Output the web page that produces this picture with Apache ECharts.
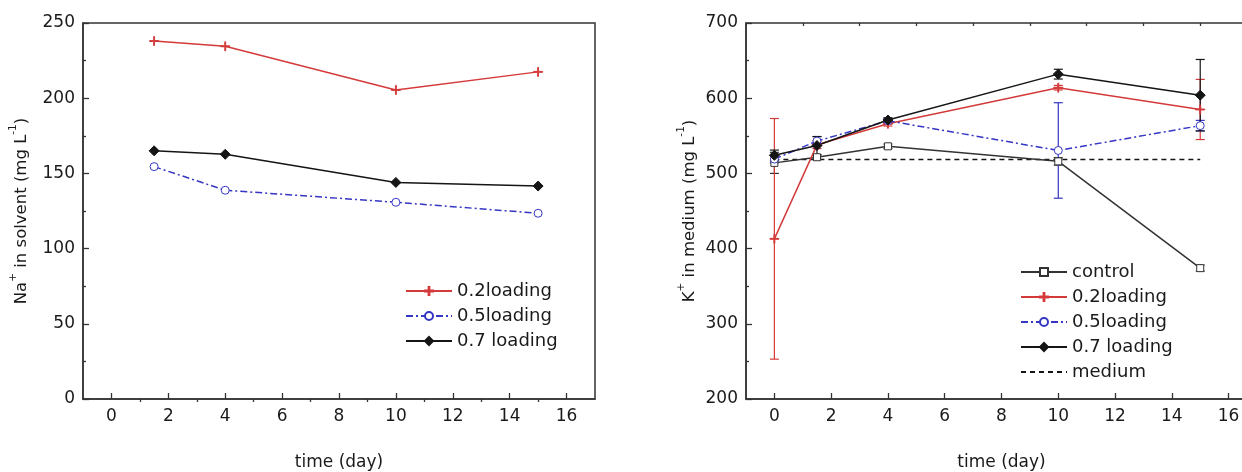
<!DOCTYPE html>
<html>
<head>
<meta charset="utf-8">
<script src="https://cdn.jsdelivr.net/npm/echarts@6/dist/echarts.min.js"></script>
<style>
  html, body { margin: 0; padding: 0; background: #fff; }
  #chart { width: 1242px; height: 472px; }
</style>
</head>
<body>
<div id="chart"></div>
<script>
// Sampling days
const naDays = [1.5, 4, 10, 15];
const kDays = [0, 1.5, 4, 10, 15];

// Na+ in solvent (mg/L)
const na02 = [238, 234.5, 205.5, 217.5];
const na05 = [154.5, 138.8, 130.8, 123.5];
const na07 = [165, 162.7, 144, 141.6];

// K+ in medium (mg/L) with error half-widths
const kControl = [514, 521.5, 536, 516, 374];
const kControlErr = [14, 3, 3, 5, 4];
const k02 = [413, 538, 566, 614, 585];
const k02Err = [160, 5, 3, 3, 40];
const k05 = [519, 543, 570, 530.5, 563.5];
const k05Err = [5, 6, 3, 63.5, 7];
const k07 = [524, 537, 571, 632, 604];
const k07Err = [7, 12, 3, 6.5, 47.5];
const kMedium = 518.5;
const mediumSpan = [0, 15];

// Axis ticks
const xMajor = [0, 2, 4, 6, 8, 10, 12, 14, 16];
const xMinor = [1, 3, 5, 7, 9, 11, 13, 15];

const RED = '#d43a3a';
const BLUE = '#3636c4';
const BLACK = '#151515';
const GREY = '#333333';
const FONT = 'DejaVu Sans, Liberation Sans, sans-serif';
const TEXT = '#1a1a1a';

// small "+" marker
const plusPath = 'path://M4.5,0h1v4.5h4.5v1h-4.5v4.5h-1v-4.5h-4.5v-1h4.5z';

function pairs(xs, ys) { return xs.map((x, i) => [x, ys[i]]); }

function xAxisPair(gridIndex) {
  const base = {
    type: 'value', gridIndex, min: -1, max: 17,
    axisLine: { show: true, onZero: false, lineStyle: { color: GREY, width: 1.5 } },
    splitLine: { show: false }
  };
  return [
    Object.assign({}, base, {
      name: 'time (day)', nameLocation: 'middle', nameGap: 55,
      nameTextStyle: { fontFamily: FONT, fontSize: 17, color: TEXT },
      axisTick: { show: true, inside: true, length: 6, customValues: xMajor, lineStyle: { color: GREY, width: 1.3 } },
      axisLabel: { show: true, customValues: xMajor, margin: 9, fontFamily: FONT, fontSize: 17, color: TEXT }
    }),
    Object.assign({}, base, {
      axisLine: { show: false },
      axisTick: { show: true, inside: true, length: 3, customValues: xMinor, lineStyle: { color: GREY, width: 1.3 } },
      axisLabel: { show: false }
    })
  ];
}

function yAxisDef(gridIndex, min, max, interval, name, gap) {
  return {
    type: 'value', gridIndex, min, max, interval,
    name, nameLocation: 'middle', nameGap: gap, nameRotate: 90,
    nameTextStyle: {
      rich: {
        n: { fontFamily: FONT, fontSize: 16.5, color: TEXT, lineHeight: 22, verticalAlign: 'bottom' },
        s: { fontFamily: FONT, fontSize: 10.5, color: TEXT, lineHeight: 22, verticalAlign: 'top' }
      }
    },
    axisLine: { show: true, onZero: false, lineStyle: { color: GREY, width: 1.5 } },
    axisTick: { show: true, inside: true, length: 6, lineStyle: { color: GREY, width: 1.3 } },
    minorTick: { show: true, splitNumber: 2, length: 3, lineStyle: { color: GREY, width: 1.3 } },
    axisLabel: { margin: 8, fontFamily: FONT, fontSize: 17, color: TEXT },
    splitLine: { show: false }
  };
}

function lineSeries(name, xIdx, yIdx, data, color, symbol, size, dash, fill) {
  return {
    name, type: 'line', xAxisIndex: xIdx, yAxisIndex: yIdx, data,
    symbol, symbolSize: size, showAllSymbol: true, z: 3,
    lineStyle: { color, width: 1.5, type: dash || 'solid' },
    itemStyle: { color: fill || color, borderColor: color, borderWidth: 1 },
    emphasis: { disabled: true },
    animation: false
  };
}

function errorSeries(xIdx, yIdx, days, vals, errs, color) {
  return {
    type: 'custom', xAxisIndex: xIdx, yAxisIndex: yIdx, z: 2,
    data: days.map((d, i) => [d, vals[i] - errs[i], vals[i] + errs[i]]),
    encode: { x: 0, y: [1, 2] },
    renderItem(params, api) {
      const lo = api.coord([api.value(0), api.value(1)]);
      const hi = api.coord([api.value(0), api.value(2)]);
      const c = 4.5;
      const style = { stroke: color, lineWidth: 1.2 };
      return {
        type: 'group',
        children: [
          { type: 'line', shape: { x1: lo[0], y1: lo[1], x2: hi[0], y2: hi[1] }, style },
          { type: 'line', shape: { x1: hi[0] - c, y1: hi[1], x2: hi[0] + c, y2: hi[1] }, style },
          { type: 'line', shape: { x1: lo[0] - c, y1: lo[1], x2: lo[0] + c, y2: lo[1] }, style }
        ]
      };
    },
    animation: false,
    silent: true
  };
}

const chart = echarts.init(document.getElementById('chart'), null, { renderer: 'canvas' });

const legendText = { fontFamily: FONT, fontSize: 18, color: TEXT, lineHeight: 18 };
const legendBase = {
  orient: 'vertical', itemWidth: 46, itemHeight: 10, itemGap: 7,
  textStyle: legendText, selectedMode: false
};

const gridBase = {
  top: 23, height: 376, show: true, borderColor: GREY, borderWidth: 1.5,
  backgroundColor: 'transparent', containLabel: false, outerBoundsMode: 'none'
};

chart.setOption({
  backgroundColor: '#fff',
  animation: false,
  grid: [
    Object.assign({}, gridBase, { left: 83, width: 512 }),
    Object.assign({}, gridBase, { left: 746, width: 511 })
  ],
  xAxis: [...xAxisPair(0), ...xAxisPair(1)],
  yAxis: [
    yAxisDef(0, 0, 250, 50, '{n|Na}{s|+}{n| in solvent (mg L}{s|-1}{n|)}', 53),
    yAxisDef(1, 200, 700, 100, '{n|K}{s|+}{n| in medium (mg L}{s|-1}{n|)}', 48)
  ],
  legend: [
    Object.assign({}, legendBase, {
      left: 400, top: 277,
      data: ['0.2loading', '0.5loading', '0.7 loading']
    }),
    Object.assign({}, legendBase, {
      left: 1015, top: 258,
      data: ['control', '0.2loading', '0.5loading', '0.7 loading',
        { name: 'medium', itemStyle: { color: 'rgba(0,0,0,0)', borderColor: 'rgba(0,0,0,0)', borderWidth: 0 } }]
    })
  ],
  series: [
    // Na+ panel
    lineSeries('0.2loading', 0, 0, pairs(naDays, na02), RED, plusPath, 9, 'solid'),
    lineSeries('0.5loading', 0, 0, pairs(naDays, na05), BLUE, 'circle', 8, [7, 3, 2, 3], '#fff'),
    lineSeries('0.7 loading', 0, 0, pairs(naDays, na07), BLACK, 'diamond', 10, 'solid'),

    // K+ panel
    errorSeries(2, 1, kDays, kControl, kControlErr, GREY),
    errorSeries(2, 1, kDays, k02, k02Err, RED),
    errorSeries(2, 1, kDays, k05, k05Err, BLUE),
    errorSeries(2, 1, kDays, k07, k07Err, BLACK),
    lineSeries('control', 2, 1, pairs(kDays, kControl), GREY, 'rect', 7, 'solid', '#fff'),
    lineSeries('0.2loading', 2, 1, pairs(kDays, k02), RED, plusPath, 9, 'solid'),
    lineSeries('0.5loading', 2, 1, pairs(kDays, k05), BLUE, 'circle', 8, [7, 3, 2, 3], '#fff'),
    lineSeries('0.7 loading', 2, 1, pairs(kDays, k07), BLACK, 'diamond', 10, 'solid'),
    {
      name: 'medium', type: 'line', xAxisIndex: 2, yAxisIndex: 1,
      data: mediumSpan.map(d => [d, kMedium]), symbol: 'none', z: 1,
      lineStyle: { color: BLACK, width: 1.5, type: [5, 4] },
      itemStyle: { color: BLACK },
      emphasis: { disabled: true }
    }
  ]
});
</script>
</body>
</html>
